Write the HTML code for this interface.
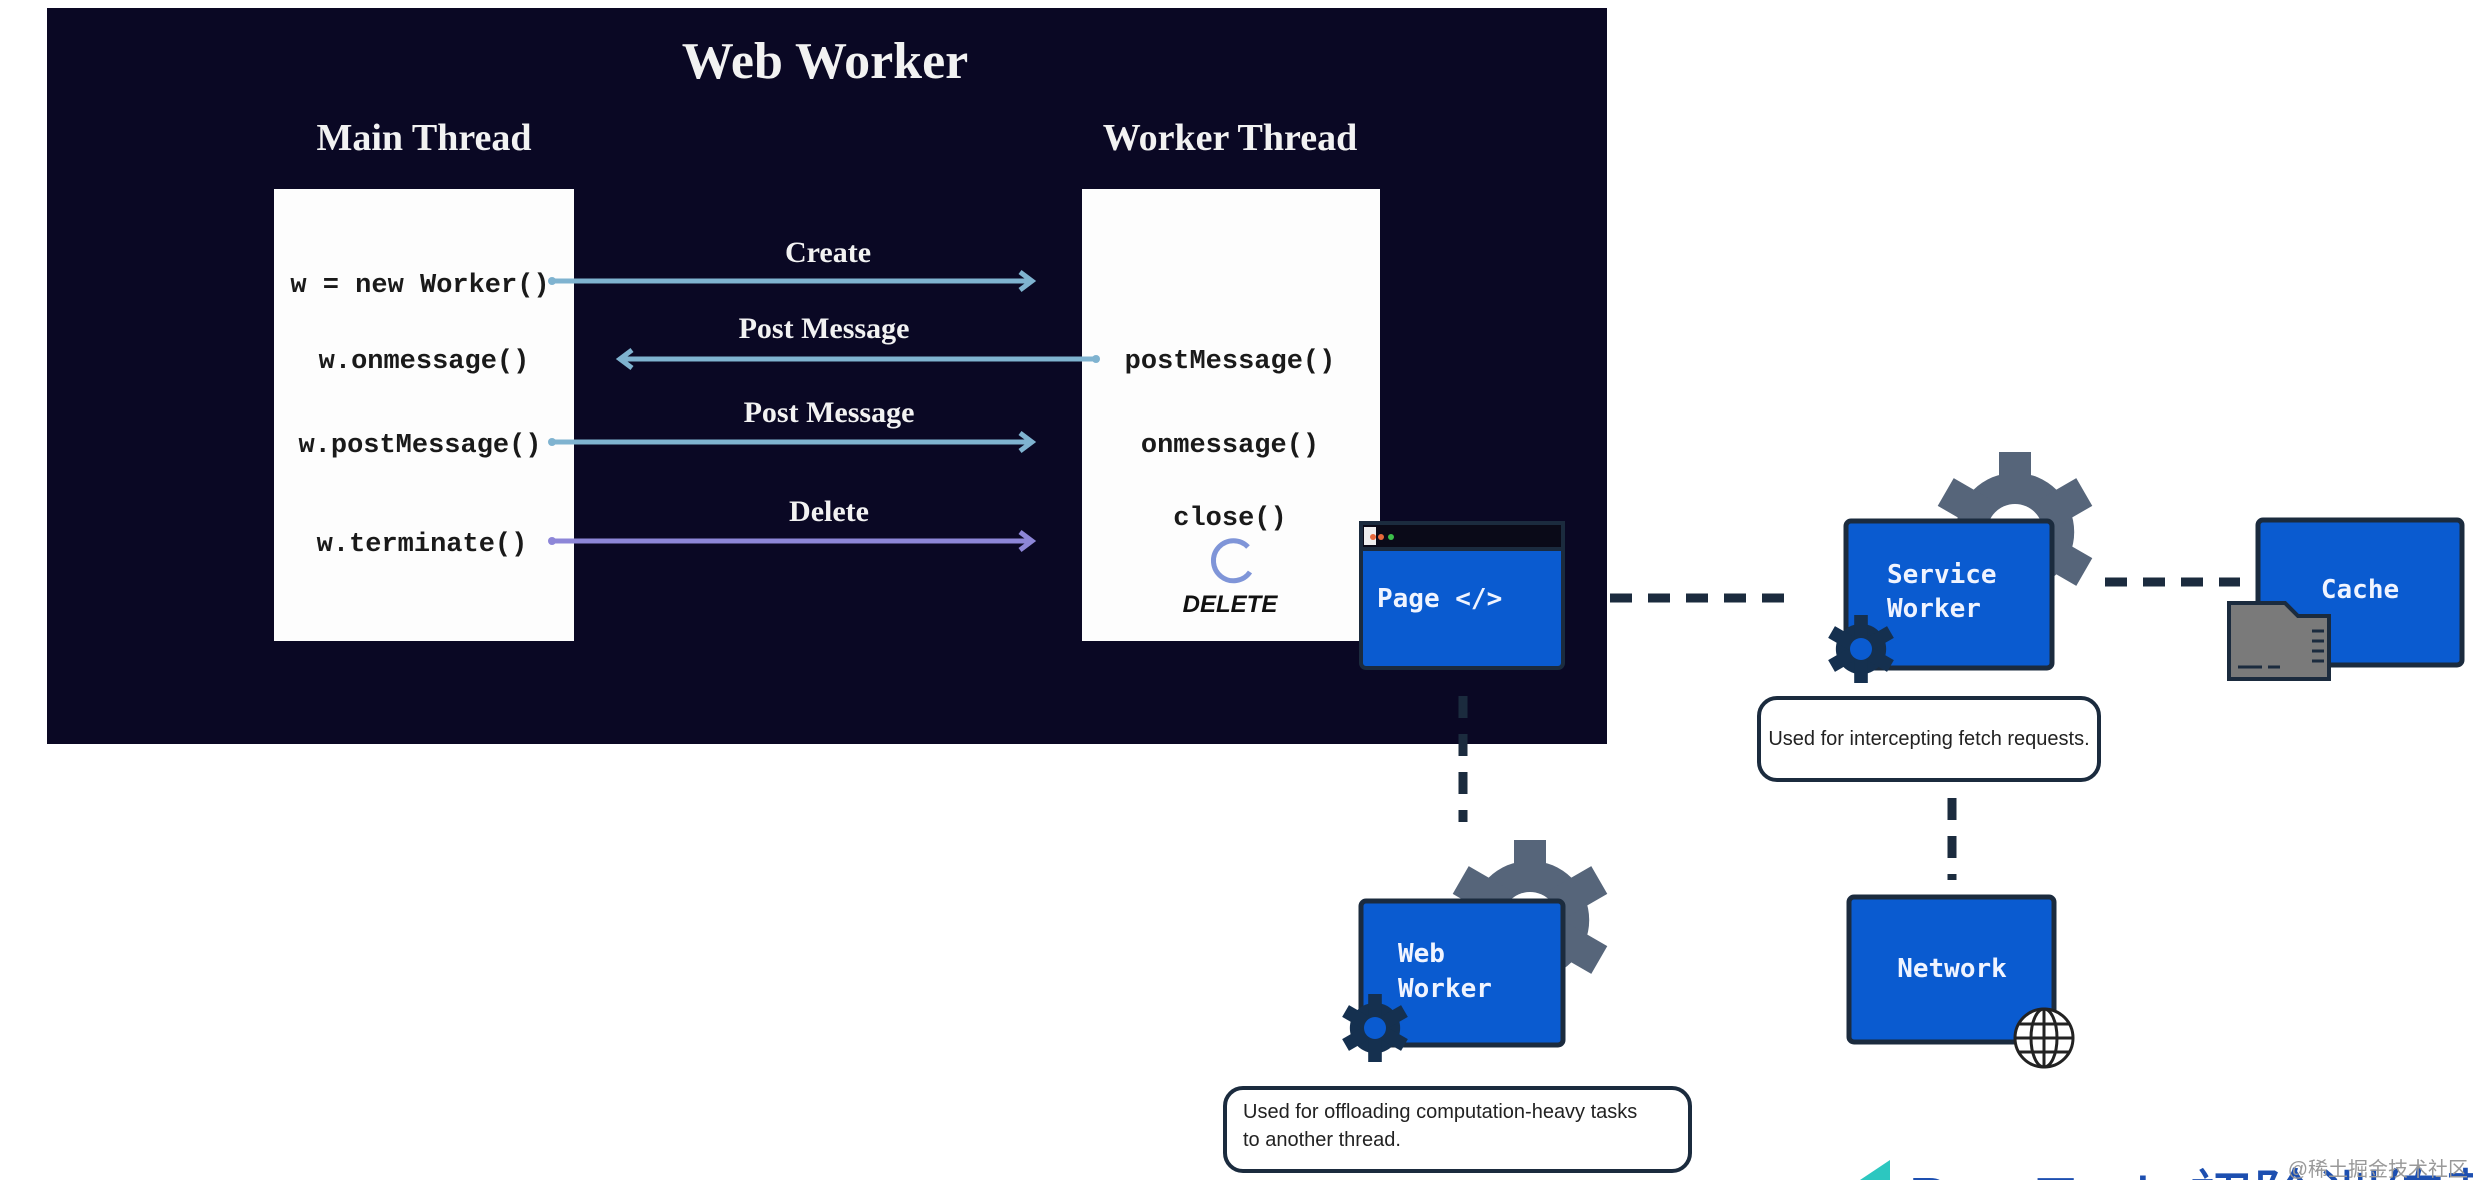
<!DOCTYPE html>
<html><head><meta charset="utf-8"><style>
html,body{margin:0;padding:0;background:#fff;width:2473px;height:1180px;overflow:hidden}
svg{display:block}
.serif{font-family:"Liberation Serif","DejaVu Serif",serif;font-weight:bold;fill:#f2f2f2}
.mono{font-family:"Liberation Mono","DejaVu Sans Mono",monospace;font-weight:bold;fill:#1a1a1a}
.wmono{font-family:"DejaVu Sans Mono","Liberation Mono",monospace;font-weight:bold;fill:#f0f4ff}
.sans{font-family:"Liberation Sans",sans-serif;fill:#222}
</style></head><body>
<svg width="2473" height="1180" viewBox="0 0 2473 1180" xmlns="http://www.w3.org/2000/svg">
<defs>
<g id="gear">
  <circle r="0.74" />
  <rect x="-0.2" y="-1" width="0.4" height="2"/>
  <rect x="-0.2" y="-1" width="0.4" height="2" transform="rotate(60)"/>
  <rect x="-0.2" y="-1" width="0.4" height="2" transform="rotate(120)"/>
</g>
</defs>
<rect x="47" y="8" width="1560" height="736" fill="#0a0824"/>
<text x="825" y="78" class="serif" font-size="52" text-anchor="middle">Web Worker</text>
<text x="424" y="150" class="serif" font-size="38" text-anchor="middle">Main Thread</text>
<text x="1230" y="150" class="serif" font-size="38" text-anchor="middle">Worker Thread</text>
<rect x="274" y="189" width="300" height="452" fill="#fdfdfd"/>
<rect x="1082" y="189" width="298" height="452" fill="#fdfdfd"/>
<text x="420" y="292" class="mono" font-size="27" text-anchor="middle">w = new Worker()</text>
<text x="424" y="368" class="mono" font-size="27" text-anchor="middle">w.onmessage()</text>
<text x="420" y="452" class="mono" font-size="27" text-anchor="middle">w.postMessage()</text>
<text x="422" y="551" class="mono" font-size="27" text-anchor="middle">w.terminate()</text>
<text x="1230" y="368" class="mono" font-size="27" text-anchor="middle">postMessage()</text>
<text x="1230" y="452" class="mono" font-size="27" text-anchor="middle">onmessage()</text>
<text x="1230" y="525" class="mono" font-size="27" text-anchor="middle">close()</text>
<path d="M1248 547 A20 20 0 1 0 1250 572" fill="none" stroke="#7f95d8" stroke-width="5"/>
<text x="1230" y="612" font-family="Liberation Sans,sans-serif" font-weight="bold" font-style="italic" font-size="24" text-anchor="middle" fill="#111">DELETE</text>
<g class="serif" font-size="30" text-anchor="middle">
<text x="828" y="262">Create</text>
<text x="824" y="338">Post Message</text>
<text x="829" y="422">Post Message</text>
<text x="829" y="521">Delete</text>
</g>
<g stroke-width="5" fill="none">
<line x1="552" y1="281" x2="1030" y2="281" stroke="#7fb3d0"/>
<path d="M1020 272 L1032 281 L1020 290" stroke="#7fb3d0"/>
<circle cx="552" cy="281" r="4" fill="#7fb3d0" stroke="none"/>
<line x1="622" y1="359" x2="1096" y2="359" stroke="#7fb3d0"/>
<path d="M632 350 L620 359 L632 368" stroke="#7fb3d0"/>
<circle cx="1096" cy="359" r="4" fill="#7fb3d0" stroke="none"/>
<line x1="552" y1="442" x2="1030" y2="442" stroke="#7fb3d0"/>
<path d="M1020 433 L1032 442 L1020 451" stroke="#7fb3d0"/>
<circle cx="552" cy="442" r="4" fill="#7fb3d0" stroke="none"/>
<line x1="552" y1="541" x2="1030" y2="541" stroke="#8d86d8"/>
<path d="M1020 532 L1032 541 L1020 550" stroke="#8d86d8"/>
<circle cx="552" cy="541" r="4" fill="#8d86d8" stroke="none"/>
</g>

<g stroke="#1b2b3e" stroke-width="9" stroke-dasharray="22 16" fill="none">
<line x1="1610" y1="598" x2="1800" y2="598"/>
<line x1="2105" y1="582" x2="2240" y2="582"/>
<line x1="1463" y1="696" x2="1463" y2="822"/>
<line x1="1952" y1="798" x2="1952" y2="880"/>
</g>

<use href="#gear" transform="translate(2015,532) scale(80)" fill="#56657a"/>
<circle cx="2015" cy="532" r="28" fill="#fff"/>
<use href="#gear" transform="translate(1530,920) scale(80)" fill="#56657a"/>
<circle cx="1530" cy="920" r="28" fill="#fff"/>

<rect x="1361" y="523" width="202" height="145" rx="5" fill="#0a5bd0" stroke="#1b2b3e" stroke-width="4"/>
<rect x="1361" y="523" width="202" height="26" fill="#0a0a18" stroke="#1b2b3e" stroke-width="4"/>
<rect x="1364" y="527" width="12" height="18" fill="#eee"/>
<circle cx="1373" cy="537" r="3" fill="#e5683a"/><circle cx="1381" cy="537" r="3" fill="#e5683a"/><circle cx="1391" cy="537" r="3" fill="#3cbf4a"/>
<text x="1377" y="607" class="wmono" font-size="26">Page &lt;/&gt;</text>

<rect x="1846" y="521" width="206" height="147" rx="5" fill="#0a5bd0" stroke="#1b2b3e" stroke-width="5"/>
<text x="1887" y="583" class="wmono" font-size="26">Service</text>
<text x="1887" y="617" class="wmono" font-size="26">Worker</text>
<use href="#gear" transform="translate(1861,649) scale(34)" fill="#15304f"/>
<circle cx="1861" cy="649" r="11" fill="#0a5bd0"/>

<rect x="2258" y="520" width="204" height="145" rx="5" fill="#0a5bd0" stroke="#1b2b3e" stroke-width="5"/>
<text x="2360" y="598" class="wmono" font-size="26" text-anchor="middle">Cache</text>
<path d="M2229 603 H2285 L2298 616 H2329 V679 H2229 Z" fill="#7a7a7a" stroke="#1b2b3e" stroke-width="4"/>
<g stroke="#1b2b3e" stroke-width="3"><line x1="2312" y1="631" x2="2324" y2="631"/><line x1="2312" y1="641" x2="2324" y2="641"/><line x1="2312" y1="651" x2="2324" y2="651"/><line x1="2312" y1="661" x2="2324" y2="661"/><line x1="2238" y1="667" x2="2262" y2="667"/><line x1="2268" y1="667" x2="2280" y2="667"/></g>

<rect x="1759" y="698" width="340" height="82" rx="18" fill="#fff" stroke="#1b2b3e" stroke-width="4"/>
<text x="1929" y="745" class="sans" font-size="20" text-anchor="middle">Used for intercepting fetch requests.</text>

<rect x="1849" y="897" width="205" height="145" rx="5" fill="#0a5bd0" stroke="#1b2b3e" stroke-width="5"/>
<text x="1952" y="977" class="wmono" font-size="26" text-anchor="middle">Network</text>
<g transform="translate(2044,1038)" fill="#fff" stroke="#222" stroke-width="3">
<circle r="29"/><ellipse rx="13" ry="29" fill="none"/><line x1="0" y1="-29" x2="0" y2="29"/><line x1="-29" y1="0" x2="29" y2="0"/><line x1="-25" y1="-14" x2="25" y2="-14"/><line x1="-25" y1="14" x2="25" y2="14"/>
</g>

<rect x="1361" y="901" width="202" height="144" rx="5" fill="#0a5bd0" stroke="#1b2b3e" stroke-width="5"/>
<text x="1398" y="962" class="wmono" font-size="26">Web</text>
<text x="1398" y="997" class="wmono" font-size="26">Worker</text>
<use href="#gear" transform="translate(1375,1028) scale(34)" fill="#15304f"/>
<circle cx="1375" cy="1028" r="11" fill="#0a5bd0"/>

<rect x="1225" y="1088" width="465" height="83" rx="18" fill="#fff" stroke="#1b2b3e" stroke-width="4"/>
<text x="1243" y="1118" class="sans" font-size="20">Used for offloading computation-heavy tasks</text>
<text x="1243" y="1146" class="sans" font-size="20">to another thread.</text>

<path d="M1860 1180 L1890 1160 L1890 1180 Z" fill="#2cc7c0"/>
<text x="1908" y="1222" font-family="Liberation Sans,Noto Sans CJK SC,sans-serif" font-size="64" fill="#1d4fb0">ByteTech 初阶训练营</text>
<text x="2468" y="1176" font-family="Liberation Sans,Noto Sans CJK SC,sans-serif" font-size="20" fill="#999" text-anchor="end">@稀土掘金技术社区</text>
</svg>
</body></html>
